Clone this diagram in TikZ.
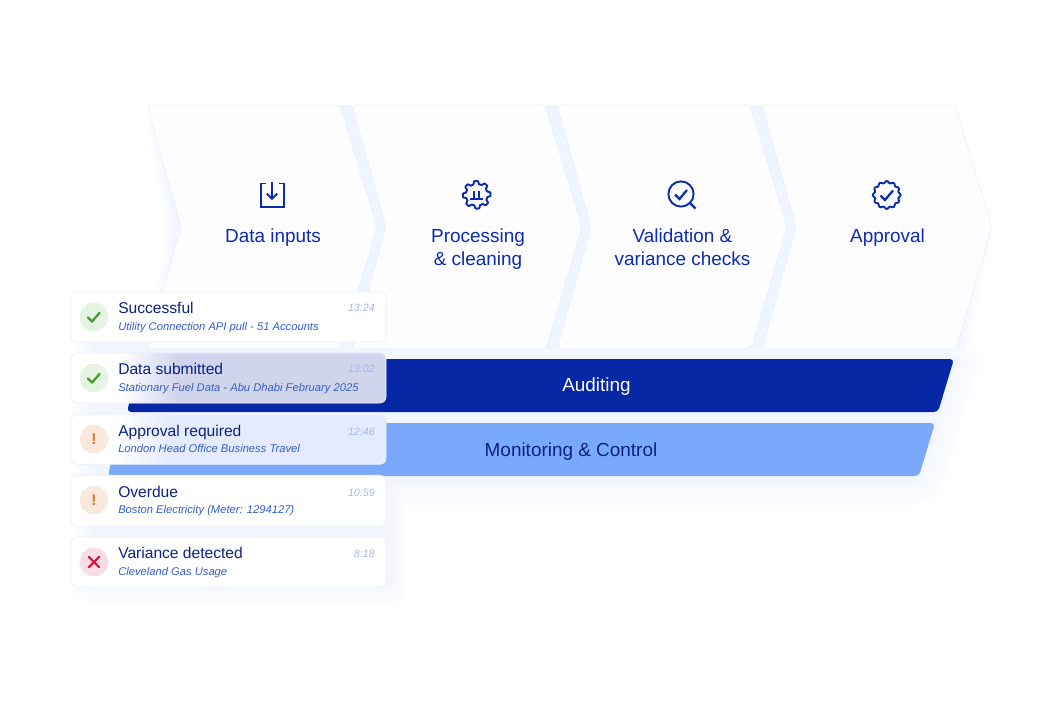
\documentclass[tikz,border=0pt]{standalone}
\usepackage{fontspec}
\setmainfont{Liberation Sans}
\usetikzlibrary{shapes.geometric}
\definecolor{ink}{HTML}{0B2BB0}
\definecolor{navy}{HTML}{0C2280}
\definecolor{subc}{HTML}{3460C8}
\definecolor{timec}{HTML}{A5B8E8}
\definecolor{band}{HTML}{F0F4FE}
\definecolor{chevf}{HTML}{FDFDFF}
\definecolor{chevl}{HTML}{E4ECFC}
\definecolor{audit}{HTML}{0628A6}
\definecolor{monit}{HTML}{7AA9FB}
\definecolor{cardl}{HTML}{E9EEFC}
\definecolor{glow}{HTML}{F2F5FE}
\definecolor{lav}{HTML}{D0D4EC}
\definecolor{pale}{HTML}{E3EBFD}
\definecolor{gbg}{HTML}{E5F3E2}
\definecolor{gfg}{HTML}{3F9E2E}
\definecolor{obg}{HTML}{FBE8DC}
\definecolor{ofg}{HTML}{E8692A}
\definecolor{rbg}{HTML}{F8DDE4}
\definecolor{rfg}{HTML}{D81F45}
\pgfdeclarehorizontalshading{cardtwo}{100bp}{color(0bp)=(white); color(33bp)=(white); color(42bp)=(lav); color(100bp)=(lav)}
\pgfdeclarehorizontalshading{cardthree}{100bp}{color(0bp)=(white); color(32bp)=(white); color(41bp)=(pale); color(100bp)=(pale)}
\tikzset{
  chev/.style={fill=chevf,draw=chevl,line width=0.4pt,rounded corners=3pt},
  gap/.style={fill=band,draw=none},
  bar/.style={rounded corners=3pt,draw=none},
  card/.style={rectangle,rounded corners=4.5pt,draw=cardl,line width=0.5pt,fill=#1,minimum width=236.25pt,inner sep=0pt},
  flabel/.style={text=ink,font=\fontsize{14.2pt}{17.2pt}\selectfont,align=center},
  bartext/.style={font=\fontsize{14.2pt}{17pt}\selectfont},
  ttl/.style={anchor=base west,text=navy,font=\fontsize{11.7pt}{14pt}\selectfont,inner sep=0pt},
  sub/.style={anchor=base west,text=subc,font=\itshape\fontsize{8.4pt}{10pt}\selectfont,inner sep=0pt},
  tim/.style={anchor=base east,text=timec,font=\itshape\fontsize{8pt}{10pt}\selectfont,inner sep=0pt},
  badge/.style={regular polygon,regular polygon sides=10,minimum size=22pt,inner sep=0pt,fill=#1,draw=none},
  ico/.style={draw=ink,line width=1.45pt,line join=miter,fill=none},
  mk/.style={line width=1.7pt,line cap=round,line join=round},
  halo/.style={line join=round,fill=glow!#1!white,draw=glow!#1!white},
}
\begin{document}
\begin{tikzpicture}[x=0.75pt,y=-0.75pt]
\useasboundingbox (0,0) rectangle (1064,720);
\fill[white] (0,0) rectangle (1064,720);
% soft shadows as nested level sets, widest and palest first
\foreach \i in {1,...,8}{
  \pgfmathsetmacro{\pp}{\i*12.5}
  \pgfmathsetmacro{\wa}{(9-\i)*3*0.75}
  \pgfmathsetmacro{\wb}{(9-\i)*8*0.75}
  \pgfmathsetmacro{\wc}{(9-\i)*6*0.75}
  \draw[halo=\pp,line width=\wa pt] (160,130) -- (950,130) -- (982,227) -- (957,345) -- (160,345) -- (178,227) -- cycle;
  \draw[halo=\pp,line width=\wb pt] (135,362) -- (950,362) -- (934,408) -- (135,408) -- cycle;
  \draw[halo=\pp,line width=\wb pt] (115,426) -- (931,426) -- (915,476) -- (115,476) -- cycle;
  \draw[halo=\pp,line width=\wc pt] (95,310) -- (386,310) -- (386,582) -- (95,582) -- cycle;
}
% gaps between chevrons
\foreach \x in {147,352,557}{
  \fill[gap] ({\x+193},105) -- ({\x+230},227) -- ({\x+193},349) -- ({\x+205},349) -- ({\x+239},227) -- ({\x+205},105) -- cycle;
}
% chevrons
\foreach \x in {147,352,557,762}{
  \draw[chev] (\x,105) -- ({\x+193},105) -- ({\x+230},227) -- ({\x+194},349) -- (\x,349) -- ({\x+34},227) -- cycle;
}
% bars
\fill[bar,audit] (140,359) -- (954,359) -- (938,412) -- (127,412) -- cycle;
\fill[bar,monit] (120,423) -- (935,423) -- (919,476) -- (108,476) -- cycle;
\node[bartext,text=white] (auditing) at (596.5,386.5) {Auditing};
\node[bartext,text=navy] (monitoring) at (571,451.5) {Monitoring \& Control};
% chevron labels
\node[flabel] (l1) at (273,238) {Data inputs};
\node[flabel] (l2) at (478,249) {Processing\\\& cleaning};
\node[flabel] (l3) at (682.5,247.5) {Validation \&\\variance checks};
\node[flabel] (l4) at (887.5,238) {Approval};
% icon 1
\draw[ico] (266,183.5) -- (261,183.5) -- (261,207) -- (284,207) -- (284,183.5) -- (278.5,183.5);
\draw[ico] (272,182.5) -- (272,198.5);
\draw[ico] (266.8,193.5) -- (272,198.8) -- (277.2,193.5);
% icon 2
\draw[ico,line join=round] plot[domain=0:360,samples=145,variable=\t] ({476.7+(12.3+1.5*min(1,max(-1,2*cos(8*\t+22.5))))*cos(\t)},{194.8+(12.3+1.5*min(1,max(-1,2*cos(8*\t+22.5))))*sin(\t)}) -- cycle;
\draw[ico,line width=1.3pt] (470,199.3) -- (483,199.3) (474.3,199.3) -- (474.3,190.7) (479,199.3) -- (479,190.7);
% icon 3
\draw[ico] (681,194) circle[radius=12.6];
\draw[ico,line width=1.7pt] (690,203) -- (695.5,208.5);
\draw[ico,line width=1.7pt] (675,194.5) -- (679.5,199) -- (687,190);
% icon 4
\draw[ico,line join=round] plot[domain=0:360,samples=145,variable=\t] ({886.7+(13+0.9*cos(12*\t))*cos(\t)},{195+(13+0.9*cos(12*\t))*sin(\t)}) -- cycle;
\draw[ico,line width=1.7pt] (880.5,195.5) -- (885,200) -- (893,190.5);
% cards
\node[card=white,minimum height=37.5pt] (c1) at (228.5,317) {};
\node[card=white,shading=cardtwo,minimum height=37.5pt] (c2) at (228.5,378) {};
\node[card=white,shading=cardthree,minimum height=37pt] (c3) at (228.5,439.5) {};
\node[card=white,minimum height=38pt] (c4) at (228.5,500.5) {};
\node[card=white,minimum height=37.5pt] (c5) at (228.5,562) {};
% badges
\node[badge=gbg] (b1) at (94,317) {};
\node[badge=gbg] (b2) at (94,378) {};
\node[badge=obg] (b3) at (94,439) {};
\node[badge=obg] (b4) at (94,500) {};
\node[badge=rbg] (b5) at (94,562) {};
\draw[mk,gfg] (88,317.5) -- (92,321.5) -- (99.5,313);
\draw[mk,gfg] (88,378.5) -- (92,382.5) -- (99.5,374);
\node[text=ofg,font=\bfseries\fontsize{11.5pt}{12pt}\selectfont,inner sep=0pt] (x3) at (94,439) {!};
\node[text=ofg,font=\bfseries\fontsize{11.5pt}{12pt}\selectfont,inner sep=0pt] (x4) at (94,500) {!};
\draw[mk,rfg] (89,557) -- (99,567) (99,557) -- (89,567);
% card texts
\node[ttl] (t1) at (118,313.5) {Successful};
\node[sub] (s1) at (118,330) {Utility Connection API pull - 51 Accounts};
\node[tim] (h1) at (375,312) {13:24};
\node[ttl] (t2) at (118,374.5) {Data submitted};
\node[sub] (s2) at (118,391) {Stationary Fuel Data - Abu Dhabi February 2025};
\node[tim] (h2) at (375,373) {13:02};
\node[ttl] (t3) at (118,436) {Approval required};
\node[sub] (s3) at (118,452) {London Head Office Business Travel};
\node[tim] (h3) at (375,435) {12:46};
\node[ttl] (t4) at (118,497) {Overdue};
\node[sub] (s4) at (118,513) {Boston Electricity (Meter: 1294127)};
\node[tim] (h4) at (375,496) {10:59};
\node[ttl] (t5) at (118,558) {Variance detected};
\node[sub] (s5) at (118,575) {Cleveland Gas Usage};
\node[tim] (h5) at (375,557) {8:18};
\end{tikzpicture}
\end{document}
